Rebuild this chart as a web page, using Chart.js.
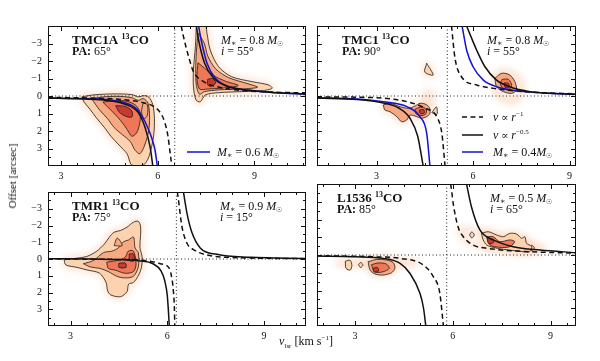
<!DOCTYPE html>
<html>
<head>
<meta charset="utf-8">
<script src="https://cdn.jsdelivr.net/npm/chart.js@4.4.1/dist/chart.umd.min.js"></script>
<style>
  body { margin: 0; width: 600px; height: 361px; background: #fff; position: relative; overflow: hidden; font-family: 'Liberation Serif', serif; color: #111; }
  canvas { position: absolute; }
  .ylab { position: absolute; left: 12px; top: 176px; transform: translate(-50%, -50%) rotate(-90deg); font-size: 11px; white-space: nowrap; }
  .xlab { position: absolute; left: 306px; top: 334px; transform: translateX(-50%); font-size: 12px; white-space: nowrap; }
  sub, sup { font-size: 7px; }
</style>
</head>
<body>
<canvas id="tl" width="310" height="185" style="left:0;top:0"></canvas>
<canvas id="tr" width="280" height="185" style="left:300px;top:0"></canvas>
<canvas id="bl" width="310" height="181" style="left:0;top:180px"></canvas>
<canvas id="br" width="280" height="181" style="left:300px;top:180px"></canvas>
<div class="ylab">Offset [arcsec]</div>
<div class="xlab"><i>v</i><sub>lsr</sub> [km s<sup>−1</sup>]</div>
<script>
// ---- data: [velocity km/s, offset arcsec] ----

// TMC1A (top left)
const tmc1aRange = [2.6, 10.6];
const tmc1aVsys = 6.53;
const tmc1aKepLow = [[2.6,0.12],[3.5,0.16],[4.31,0.23],[5.04,0.5],[5.4,0.95],[5.61,1.8],[5.77,2.95],[5.85,4.0]];
const tmc1aKepHigh = [[7.2,-4],[7.27,-3.2],[7.45,-1.9],[7.72,-1.05],[8.1,-0.6],[8.8,-0.34],[9.6,-0.2],[10.6,-0.12]];
const tmc1aBlueLow = [[2.6,0.12],[3.5,0.14],[4.32,0.18],[5.04,0.42],[5.35,0.74],[5.61,1.47],[5.82,2.42],[5.92,3.1],[5.99,4.0]];
const tmc1aBlueHigh = [[7.27,-4],[7.35,-3.2],[7.53,-1.87],[7.79,-1.01],[8.2,-0.53],[8.93,-0.3],[9.65,-0.19],[10.6,-0.1]];
const tmc1aDashLow = [[2.6,0.08],[4.0,0.12],[5.0,0.22],[5.6,0.4],[5.9,0.62],[6.1,1.0],[6.22,1.5],[6.32,2.3],[6.39,3.3],[6.44,4.0]];
const tmc1aDashHigh = [[6.73,-4],[6.8,-3.4],[6.96,-2.25],[7.11,-1.39],[7.4,-0.85],[7.84,-0.53],[8.6,-0.32],[9.6,-0.22],[10.6,-0.18]];
const tmc1aLowL1 = [[3.65,0.05],[3.95,-0.05],[4.3,-0.1],[4.8,-0.12],[5.2,-0.08],[5.42,0.05],[5.55,-0.02],[5.72,0.05],[5.85,0.5],[5.9,1.3],[5.88,2.2],[5.8,3.0],[5.7,3.6],[5.55,3.95],[5.2,3.95],[5.05,3.3],[4.8,2.8],[4.55,2.3],[4.35,1.8],[4.1,1.25],[3.9,0.75],[3.72,0.35]];
const tmc1aLowL2 = [[3.95,0.15],[4.3,0.05],[4.8,0.02],[5.2,0.1],[5.4,0.25],[5.55,0.15],[5.7,0.4],[5.75,1.2],[5.72,2.0],[5.6,2.8],[5.45,3.3],[5.3,3.1],[5.15,2.6],[4.9,2.2],[4.65,1.8],[4.45,1.3],[4.2,0.8]];
const tmc1aLowL3 = [[4.3,0.35],[4.7,0.25],[5.05,0.3],[5.3,0.5],[5.45,0.9],[5.45,1.5],[5.35,2.1],[5.2,2.3],[5.05,1.9],[4.85,1.4],[4.6,0.9]];
const tmc1aLobeL3 = [[5.55,0.4],[5.68,0.5],[5.68,1.1],[5.58,1.3],[5.5,0.9]];
const tmc1aLowL4 = [[4.7,0.55],[5.0,0.6],[5.2,0.85],[5.2,1.2],[5.0,1.15],[4.8,0.9]];
const tmc1aHighL1 = [[7.2,-4],[7.48,-4],[7.53,-3.58],[7.63,-2.63],[7.89,-1.67],[8.3,-1.1],[8.93,-0.82],[9.44,-0.63],[9.55,-0.44],[9.24,-0.3],[8.6,-0.25],[7.89,-0.19],[7.48,-0.06],[7.32,0.33],[7.19,0.23],[7.11,-0.53],[7.11,-1.49],[7.17,-2.82]];
const tmc1aHighL2 = [[7.25,-3.6],[7.45,-3.0],[7.55,-2.3],[7.8,-1.55],[8.2,-1.05],[8.8,-0.7],[9.1,-0.5],[8.6,-0.4],[7.9,-0.35],[7.45,-0.25],[7.3,-0.1],[7.2,-0.6],[7.18,-1.5],[7.2,-2.5]];
const tmc1aHighL3 = [[7.25,-1.9],[7.45,-1.6],[7.7,-1.2],[8.1,-0.85],[8.5,-0.6],[8.0,-0.45],[7.55,-0.4],[7.3,-0.4],[7.22,-1.0]];
const tmc1aHighL4 = [[7.55,-0.95],[7.7,-1.0],[7.8,-0.75],[7.65,-0.55],[7.55,-0.65]];

// TMC1 (top right)
const tmc1Range = [1.15, 9.2];
const tmc1Vsys = 5.2;
const tmc1KepLow = [[1.15,0.12],[2.4,0.2],[3.21,0.4],[3.7,0.7],[4.05,1.3],[4.28,2.3],[4.45,4.0]];
const tmc1KepHigh = [[5.8,-4],[6.11,-2.63],[6.37,-1.67],[6.73,-0.91],[7.14,-0.53],[7.77,-0.25],[8.4,-0.16],[9.2,-0.1]];
const tmc1BlueLow = [[1.15,0.1],[2.4,0.17],[3.21,0.33],[3.94,0.61],[4.35,1.18],[4.56,2.13],[4.66,4.0]];
const tmc1BlueHigh = [[5.66,-4],[5.8,-2.63],[6.0,-1.67],[6.32,-0.91],[6.73,-0.53],[7.35,-0.3],[8.2,-0.17],[9.2,-0.1]];
const tmc1DashLow = [[1.15,0.05],[3.0,0.1],[4.0,0.35],[4.51,0.7],[4.87,1.18],[5.03,2.13],[5.13,4.0]];
const tmc1DashHigh = [[5.33,-4],[5.44,-2.15],[5.64,-1.1],[6.11,-0.63],[6.42,-0.5],[7.04,-0.34],[8.0,-0.2],[9.2,-0.12]];
const tmc1RedL1 = [[6.68,-1.01],[6.89,-1.3],[7.14,-1.2],[7.3,-0.82],[7.35,-0.34],[7.2,-0.15],[6.94,-0.25],[6.73,-0.53]];
const tmc1RedL3 = [[6.9,-0.95],[7.1,-0.95],[7.2,-0.6],[7.1,-0.35],[6.92,-0.45],[6.85,-0.7]];
const tmc1RedL4 = [[6.97,-0.75],[7.1,-0.72],[7.12,-0.5],[7.0,-0.48]];
const tmc1Knot = [[4.56,-1.87],[4.76,-1.2],[4.5,-1.37]];
const tmc1BlueL1 = [[3.21,0.51],[3.42,0.42],[3.73,0.61],[3.99,0.7],[4.2,0.57],[4.35,0.42],[4.51,0.46],[4.64,0.65],[4.66,0.99],[4.56,1.18],[4.4,1.27],[4.25,1.18],[4.04,1.09],[3.94,1.37],[3.78,1.47],[3.63,1.18],[3.42,0.9],[3.26,0.8]];
const tmc1BlueL3 = [[4.2,0.75],[4.42,0.62],[4.55,0.8],[4.52,1.05],[4.38,1.12],[4.22,1.0]];
const tmc1BlueL4 = [[4.33,0.8],[4.47,0.78],[4.48,0.98],[4.36,1.0]];
const tmc1Spur = [[4.72,0.95],[4.86,0.62],[4.88,1.05]];
const tmc1Haze = [[6.7,-1.3],[7.15,-1.3],[7.5,-0.6],[7.4,0.1],[7.0,0.2],[6.7,-0.4]];
const tmc1Haze2 = [[4.5,-0.2],[4.7,-0.2],[4.7,0.4],[4.5,0.4]];

// TMR1 (bottom left)
const tmr1Range = [2.3, 10.3];
const tmr1Vsys = 6.28;
const tmr1KepLow = [[2.3,-0.02],[3.5,0.0],[4.5,0.04],[5.1,0.1],[5.57,0.3],[5.8,0.7],[5.92,1.3],[6.0,2.2],[6.04,3.3],[6.06,4.0]];
const tmr1KepHigh = [[6.5,-4],[6.61,-2.72],[6.76,-1.59],[7.02,-0.66],[7.54,-0.28],[8.57,-0.1],[10.3,-0.03]];
const tmr1DashLow = [[2.3,0.0],[4.5,0.03],[5.4,0.12],[5.78,0.28],[6.04,0.5],[6.12,0.94],[6.19,1.97],[6.22,3.0],[6.23,4.0]];
const tmr1DashHigh = [[6.31,-4],[6.33,-3.76],[6.45,-1.97],[6.61,-0.94],[6.81,-0.56],[7.23,-0.24],[8.2,-0.08],[10.3,-0.02]];
const tmr1L1 = [[2.8,0.05],[3.2,-0.05],[3.5,-0.15],[3.8,-0.45],[4.05,-0.9],[4.2,-1.3],[4.35,-1.6],[4.55,-1.7],[4.75,-1.9],[4.95,-2.2],[5.1,-2.25],[5.17,-1.95],[5.17,-1.4],[5.15,-0.7],[5.22,-0.1],[5.2,0.5],[5.1,1.0],[4.95,1.4],[4.8,1.5],[4.75,1.95],[4.55,2.25],[4.25,2.15],[4.15,1.9],[4.1,1.4],[3.9,0.85],[3.5,0.65],[3.2,0.5],[2.85,0.35]];
const tmr1L2 = [[3.4,0.28],[3.71,0.09],[4.02,-0.38],[4.28,-0.47],[4.48,-0.66],[4.64,-1.03],[4.79,-1.13],[4.95,-1.31],[5.0,-0.66],[5.1,-0.38],[5.1,0.47],[4.95,1.03],[4.69,1.13],[4.43,1.03],[4.17,0.75],[3.91,0.56],[3.6,0.47]];
const tmr1L3 = [[4.12,0.19],[4.43,0.09],[4.69,-0.1],[4.79,-0.47],[4.95,-0.47],[5.03,0.28],[4.95,0.75],[4.69,0.85],[4.38,0.66],[4.17,0.56]];
const tmr1L4a = [[4.5,0.25],[4.7,0.25],[4.72,0.5],[4.5,0.5]];
const tmr1L4b = [[4.82,-0.3],[4.95,-0.3],[4.97,0.1],[4.83,0.1]];
const tmr1Knot = [[4.35,-0.8],[4.45,-1.25],[4.6,-0.8]];

// L1536 (bottom right)
const l1536Range = [1.83, 9.78];
const l1536Vsys = 5.81;
const l1536KepLow = [[1.83,0.06],[3.0,0.1],[3.86,0.19],[4.38,0.47],[4.68,1.03],[4.99,2.16],[5.1,3.0],[5.17,4.0]];
const l1536KepHigh = [[6.42,-4],[6.57,-2.72],[6.83,-1.41],[7.24,-0.85],[7.85,-0.47],[8.67,-0.28],[9.78,-0.13]];
const l1536DashLow = [[1.83,0.04],[3.56,0.1],[4.38,0.19],[5.09,0.56],[5.4,1.22],[5.6,2.16],[5.71,4.0]];
const l1536DashHigh = [[5.93,-4],[5.96,-3.66],[6.01,-2.91],[6.16,-1.59],[6.32,-1.03],[6.62,-0.56],[7.04,-0.38],[8.2,-0.2],[9.78,-0.1]];
const l1536RedL1 = [[6.88,-1.22],[7.09,-1.31],[7.34,-1.13],[7.55,-1.03],[7.75,-1.22],[7.96,-1.18],[8.11,-0.94],[8.21,-1.03],[8.26,-0.66],[8.42,-0.47],[8.36,-0.19],[7.96,-0.23],[7.55,-0.32],[7.24,-0.43],[7.04,-0.56],[6.93,-0.85]];
const l1536RedL3 = [[7.04,-1.03],[7.24,-1.03],[7.44,-0.75],[7.75,-0.85],[7.9,-0.75],[7.75,-0.47],[7.44,-0.43],[7.14,-0.56]];
const l1536RedL4 = [[7.05,-0.95],[7.22,-0.9],[7.25,-0.7],[7.1,-0.65]];
const l1536KnotA = [[8.35,-0.4],[8.42,-0.55],[8.5,-0.4],[8.42,-0.25]];
const l1536KnotB = [[6.51,-1.13],[6.58,-1.3],[6.66,-1.13],[6.58,-0.96]];
const l1536BlueL1 = [[3.4,0.38],[3.66,0.25],[3.97,0.28],[4.17,0.43],[4.22,0.75],[4.12,1.0],[3.86,1.13],[3.61,1.07],[3.46,0.85]];
const l1536BlueL3 = [[3.5,0.55],[3.7,0.45],[3.95,0.5],[4.05,0.75],[3.85,0.95],[3.6,0.95]];
const l1536BlueL4 = [[3.55,0.75],[3.68,0.7],[3.72,0.9],[3.58,0.95]];
const l1536KnotC = [[2.7,0.35],[2.85,0.3],[2.9,0.6],[2.85,0.85],[2.72,0.75]];
const l1536KnotD = [[3.1,0.56],[3.17,0.42],[3.24,0.56],[3.17,0.7]];
const l1536Haze = [[6.2,-1.5],[6.6,-1.4],[7.0,-1.2],[8.7,-0.5],[8.7,-0.2],[7.0,-0.45],[6.35,-0.9]];
const l1536Haze2 = [[2.5,0.35],[4.8,0.3],[4.8,0.55],[2.5,0.55]];

// ---- styling helpers ----
const LV1 = '#fdd2ae', LV2 = '#f9a982', LV3 = '#ef7757', LV4 = '#c63a2f';
const BLUE = '#1010d8';
const SERIF = "'Liberation Serif', 'DejaVu Serif', serif";

function pts(a) { return a.map(p => ({ x: p[0], y: p[1] })); }
function ring(a) { const d = pts(a); d.push(d[0]); return d; }
function contour(a, color, order) {
  return { data: ring(a), backgroundColor: color, borderColor: '#1b1b1b', borderWidth: 0.8,
    fill: 'shape', tension: 0.3, pointRadius: 0, order: order, clip: 0 };
}
function glow(a, w) {
  return { data: ring(a), borderColor: 'rgba(250,186,142,0.4)', backgroundColor: 'rgba(0,0,0,0)',
    borderWidth: w || 6, fill: false, tension: 0.4, pointRadius: 0, order: 60, glow: true,
    borderJoinStyle: 'round', clip: 0 };
}
function curve(a, color, dash) {
  return { data: pts(a), borderColor: color, borderWidth: 1.5, borderDash: dash || [], fill: false,
    cubicInterpolationMode: 'monotone', pointRadius: 0, order: 0, clip: 0 };
}
function guides(range, vsys) {
  const st = { borderColor: '#222', borderWidth: 1, borderDash: [1, 2.5], fill: false, pointRadius: 0, order: 3, clip: 0 };
  return [Object.assign({ data: pts([[vsys, -4], [vsys, 4]]) }, st),
          Object.assign({ data: pts([[range[0], 0], [range[1], 0]]) }, st)];
}
const DASH = [5, 3.5];

function isMult(v, s) { return Math.abs(v / s - Math.round(v / s)) < 1e-6; }
function fmt(v) { return v < 0 ? '\u2212' + (-v) : String(v); }
function halfSteps(lo, hi) {
  const out = [];
  for (let k = Math.ceil(lo * 2 - 1e-9); k <= Math.floor(hi * 2 + 1e-9); k++) out.push({ value: k / 2 });
  return out;
}

function runs(ctx, x, y, list) {
  list.forEach(r => {
    ctx.font = r.f;
    ctx.fillText(r.t, x, y + (r.dy || 0));
    x += ctx.measureText(r.t).width;
  });
}
const F = (style, size) => style + ' ' + size + 'px ' + SERIF;
function titleRuns(name) { return [{ t: name + ' ', f: F('bold', 13) }, { t: '13', f: F('bold', 8), dy: -5 }, { t: 'CO', f: F('bold', 13) }]; }
function paRuns(pa) { return [{ t: 'PA: ', f: F('bold', 12) }, { t: pa, f: F('', 12) }]; }
function massRuns(m, gap) {
  return [{ t: 'M', f: F('italic', 12) }, { t: '\u2217', f: F('', 8), dy: 2 }, { t: ' = ' + m + (gap ? ' ' : ''), f: F('', 12) },
          { t: 'M', f: F('italic', 12) }, { t: '\u2609', f: F('', 7), dy: 2 }];
}
function incRuns(i) { return [{ t: 'i', f: F('italic', 12) }, { t: ' = ' + i, f: F('', 12) }]; }
function propRuns(p) { return [{ t: 'v', f: F('italic', 12) }, { t: ' \u221D ', f: F('', 11) }, { t: 'r', f: F('italic', 12) }, { t: '\u2212' + p, f: F('', 7), dy: -5 }]; }

const framePlugin = {
  id: 'frame',
  afterDatasetsDraw(chart) {
    const { ctx, chartArea: a, scales: { x, y } } = chart;
    ctx.save();
    ctx.strokeStyle = '#111';
    ctx.lineWidth = 1;
    ctx.strokeRect(a.left + 0.5, a.top + 0.5, a.width - 1, a.height - 1);
    ctx.beginPath();
    x.ticks.forEach(t => {
      const px = Math.round(x.getPixelForValue(t.value)) + 0.5;
      const len = isMult(t.value, 3) ? 5 : 3;
      ctx.moveTo(px, a.bottom); ctx.lineTo(px, a.bottom - len);
      ctx.moveTo(px, a.top); ctx.lineTo(px, a.top + len);
    });
    y.ticks.forEach(t => {
      const py = Math.round(y.getPixelForValue(t.value)) + 0.5;
      const len = isMult(t.value, 1) ? 5 : 3;
      ctx.moveTo(a.left, py); ctx.lineTo(a.left + len, py);
      ctx.moveTo(a.right, py); ctx.lineTo(a.right - len, py);
    });
    ctx.stroke();
    ctx.restore();
  }
};

const glowPlugin = {
  id: 'glow',
  beforeDatasetDraw(chart, args) {
    if (chart.data.datasets[args.index].glow) { chart.ctx.save(); chart.ctx.filter = 'blur(3px)'; }
  },
  afterDatasetDraw(chart, args) {
    if (chart.data.datasets[args.index].glow) chart.ctx.restore();
  }
};

function textPlugin(p) {
  return {
    id: 'notes',
    afterDraw(chart) {
      const { ctx, chartArea: a } = chart;
      ctx.save();
      ctx.fillStyle = '#111';
      ctx.textBaseline = 'alphabetic';
      runs(ctx, a.left + p.titleX, a.top + 17.5, titleRuns(p.name));
      runs(ctx, a.left + p.titleX, a.top + 29, paRuns(p.pa));
      runs(ctx, a.left + p.massX, a.top + 17.5, massRuns(p.mass, true));
      runs(ctx, a.left + p.massX, a.top + 29, incRuns(p.inc));
      (p.legend || []).forEach(item => {
        const yy = a.bottom - item.dy;
        ctx.beginPath();
        ctx.strokeStyle = item.color;
        ctx.lineWidth = 1.5;
        ctx.setLineDash(item.dash || []);
        ctx.moveTo(a.left + item.x0, yy); ctx.lineTo(a.left + item.x1, yy);
        ctx.stroke();
        ctx.setLineDash([]);
        runs(ctx, a.left + item.x1 + item.gap, yy + 4, item.runs);
      });
      ctx.restore();
    }
  };
}

function makeChart(p) {
  new Chart(document.getElementById(p.id), {
    type: 'line',
    data: { datasets: p.datasets },
    options: {
      responsive: false,
      animation: false,
      devicePixelRatio: 1,
      layout: { padding: { top: p.padTop, right: 4, left: 0, bottom: 0 } },
      plugins: { legend: { display: false }, tooltip: { enabled: false } },
      scales: {
        x: {
          type: 'linear', min: p.range[0], max: p.range[1],
          grid: { display: false, drawTicks: false }, border: { display: false },
          afterBuildTicks: s => { s.ticks = halfSteps(p.range[0], p.range[1]); },
          ticks: { autoSkip: false, maxRotation: 0, padding: 4, color: '#111',
            font: { family: SERIF, size: 10 }, callback: v => isMult(v, 3) ? String(v) : '' },
          afterFit: s => { s.height = p.xH; }
        },
        y: {
          type: 'linear', reverse: true, min: -4, max: 4,
          grid: { display: false, drawTicks: false }, border: { display: false },
          afterBuildTicks: s => { s.ticks = halfSteps(-3.5, 3.5); },
          ticks: { autoSkip: false, padding: 6, color: '#111', display: p.yLabels,
            font: { family: SERIF, size: 10 },
            callback: v => (isMult(v, 1) && Math.abs(v) <= 3) ? fmt(v) : '' },
          afterFit: s => { s.width = p.yW; }
        }
      }
    },
    plugins: [glowPlugin, framePlugin, textPlugin(p)]
  });
}

makeChart({
  id: 'tl', name: 'TMC1A', pa: '65°', mass: '0.8', inc: '55°', range: tmc1aRange,
  padTop: 26, xH: 19, yW: 48, yLabels: true, titleX: 24, massX: 173,
  legend: [{ color: BLUE, x0: 139, x1: 162, gap: 7, dy: 14, runs: massRuns('0.6', true) }],
  datasets: [
    glow(tmc1aLowL1), glow(tmc1aHighL1),
    contour(tmc1aLowL1, LV1, 50), contour(tmc1aLowL2, LV2, 40), contour(tmc1aLowL3, LV3, 30),
    contour(tmc1aLobeL3, LV2, 30), contour(tmc1aLowL4, LV4, 20),
    contour(tmc1aHighL1, LV1, 50), contour(tmc1aHighL2, LV2, 40), contour(tmc1aHighL3, LV3, 30),
    contour(tmc1aHighL4, LV4, 20),
    ...guides(tmc1aRange, tmc1aVsys),
    curve(tmc1aDashLow, '#111', DASH), curve(tmc1aDashHigh, '#111', DASH),
    curve(tmc1aKepLow, '#111'), curve(tmc1aKepHigh, '#111'),
    curve(tmc1aBlueLow, BLUE), curve(tmc1aBlueHigh, BLUE)
  ]
});

makeChart({
  id: 'tr', name: 'TMC1', pa: '90°', mass: '0.8', inc: '55°', range: tmc1Range,
  padTop: 26, xH: 19, yW: 17, yLabels: false, titleX: 25, massX: 170,
  legend: [
    { color: '#111', dash: DASH, x0: 145, x1: 166, gap: 10, dy: 49, runs: propRuns('1') },
    { color: '#111', x0: 145, x1: 166, gap: 10, dy: 31, runs: propRuns('0.5') },
    { color: BLUE, x0: 145, x1: 166, gap: 10, dy: 14, runs: massRuns('0.4', false) }
  ],
  datasets: [
    glow(tmc1Haze, 8), glow(tmc1Haze2, 6), glow(tmc1BlueL1), glow(tmc1Knot, 5),
    contour(tmc1RedL1, LV2, 50), contour(tmc1RedL3, LV3, 30), contour(tmc1RedL4, LV4, 20),
    contour(tmc1Knot, LV1, 50),
    contour(tmc1BlueL1, LV2, 50), contour(tmc1BlueL3, LV3, 30), contour(tmc1BlueL4, LV4, 20),
    contour(tmc1Spur, LV1, 50),
    ...guides(tmc1Range, tmc1Vsys),
    curve(tmc1DashLow, '#111', DASH), curve(tmc1DashHigh, '#111', DASH),
    curve(tmc1KepLow, '#111'), curve(tmc1KepHigh, '#111'),
    curve(tmc1BlueLow, BLUE), curve(tmc1BlueHigh, BLUE)
  ]
});

makeChart({
  id: 'bl', name: 'TMR1', pa: '75°', mass: '0.9', inc: '15°', range: tmr1Range,
  padTop: 4, xH: 35, yW: 48, yLabels: true, titleX: 24, massX: 172,
  datasets: [
    glow(tmr1L1),
    contour(tmr1L1, LV1, 50), contour(tmr1L2, LV2, 40), contour(tmr1L3, LV3, 30),
    contour(tmr1L4a, LV4, 20), contour(tmr1L4b, LV4, 20), contour(tmr1Knot, LV2, 30),
    ...guides(tmr1Range, tmr1Vsys),
    curve(tmr1DashLow, '#111', DASH), curve(tmr1DashHigh, '#111', DASH),
    curve(tmr1KepLow, '#111'), curve(tmr1KepHigh, '#111')
  ]
});

makeChart({
  id: 'br', name: 'L1536', pa: '85°', mass: '0.5', inc: '65°', range: l1536Range,
  padTop: 4, xH: 35, yW: 17, yLabels: false, titleX: 20, massX: 173,
  datasets: [
    glow(l1536Haze, 6), glow(l1536Haze2, 5), glow(l1536RedL1), glow(l1536BlueL1),
    contour(l1536RedL1, LV1, 50), contour(l1536RedL3, LV3, 30), contour(l1536RedL4, LV4, 20),
    contour(l1536KnotA, LV1, 50), contour(l1536KnotB, LV1, 50),
    contour(l1536BlueL1, LV2, 50), contour(l1536BlueL3, LV3, 30), contour(l1536BlueL4, LV4, 20),
    contour(l1536KnotC, LV1, 50), contour(l1536KnotD, LV1, 50),
    ...guides(l1536Range, l1536Vsys),
    curve(l1536DashLow, '#111', DASH), curve(l1536DashHigh, '#111', DASH),
    curve(l1536KepLow, '#111'), curve(l1536KepHigh, '#111')
  ]
});
</script>
</body>
</html>
